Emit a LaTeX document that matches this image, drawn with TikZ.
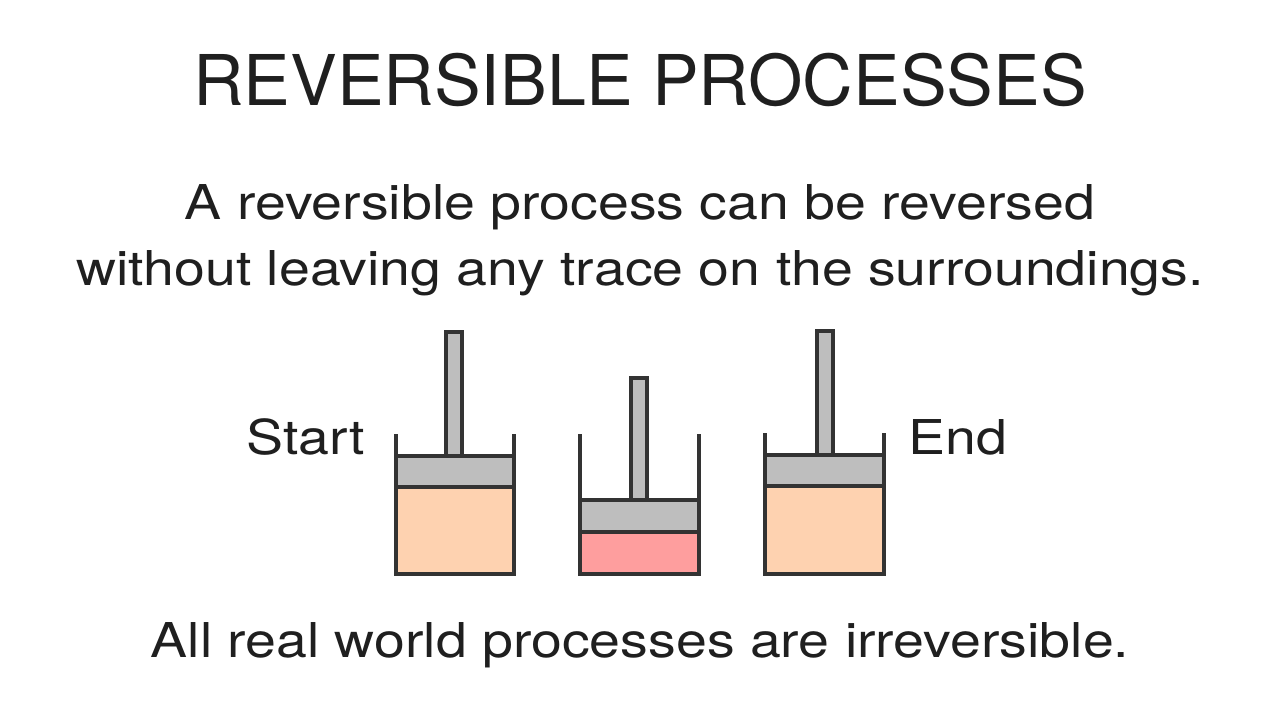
\documentclass[tikz,border=0pt]{standalone}
\usepackage{fontspec}
\setmainfont{TeX Gyre Heros}
\definecolor{peach}{HTML}{FED2B0}
\definecolor{pinkgas}{HTML}{FE9E9E}
\definecolor{rodgray}{HTML}{BEBEBE}
\definecolor{ink}{HTML}{333333}
\begin{document}
\begin{tikzpicture}[x=1pt,y=-1pt,
  wall/.style={draw=ink,line width=4pt,line join=miter},
  txt/.style={text=black!88,inner sep=0pt,anchor=base},
  body/.style={txt,font=\fontsize{48}{52}\selectfont,xscale=1.155}]
\useasboundingbox (0,0) rectangle (1280,720);
\fill[white] (0,0) rectangle (1280,720);
\node[txt,font=\fontsize{70}{74}\selectfont] (title) at (640,105) {REVERSIBLE PROCESSES};
\node[body] (l1) at (640,219) {A reversible process can be reversed};
\node[body] (l2) at (640,285) {without leaving any trace on the surroundings.};
\node[body] (l3) at (640,657) {All real world processes are irreversible.};
\node[body] (s) at (306,454) {Start};
\node[body] (e) at (958,454) {End};
\foreach \xl/\xr/\top/\hd/\hb/\rl/\rr/\rt/\gas in
  {396/514/434/456/487/446/462/332/peach,
   580/699/434/500/532/631/647/378/pinkgas,
   765/884/433/455/486/817/833/331/peach}{
  \fill[fill=\gas] (\xl,\hb) rectangle (\xr,574);
  \filldraw[fill=rodgray,wall] (\xl,\hd) rectangle (\xr,\hb);
  \filldraw[fill=rodgray,wall] (\rl,\rt) rectangle (\rr,\hd);
  \draw[wall] (\xl,\top) -- (\xl,574) -- (\xr,574) -- (\xr,\top);
}
\end{tikzpicture}
\end{document}
